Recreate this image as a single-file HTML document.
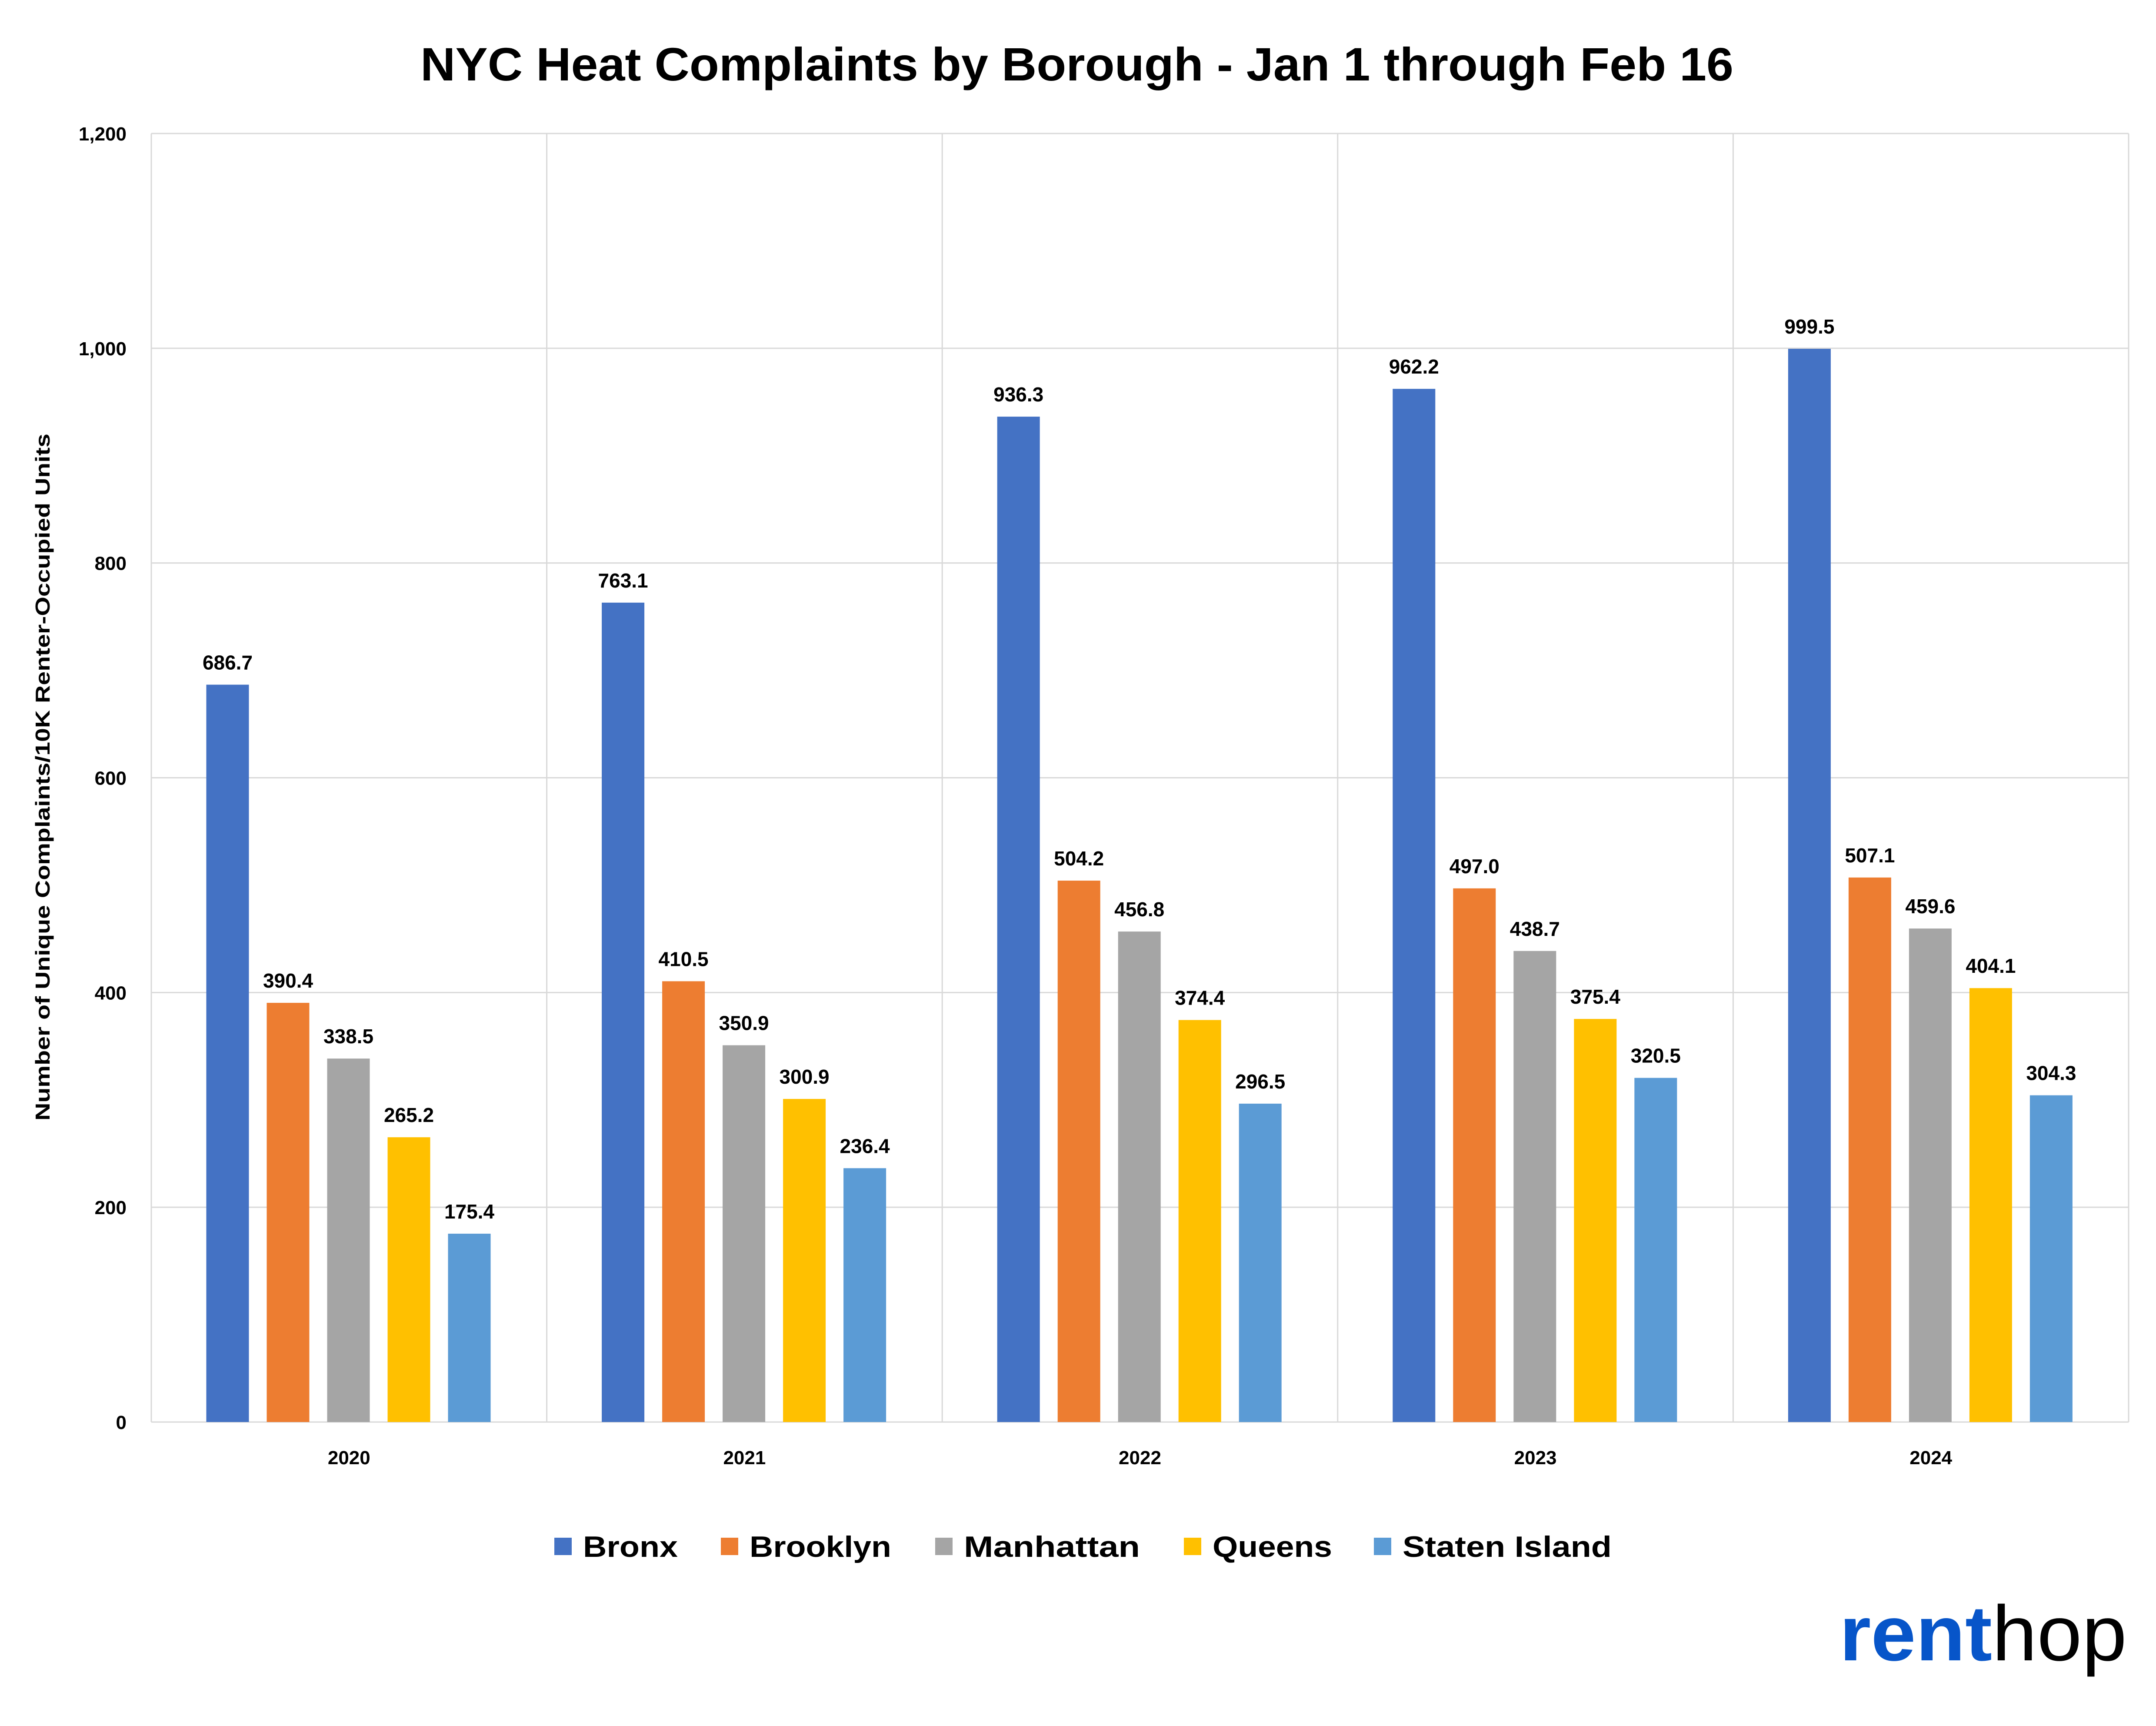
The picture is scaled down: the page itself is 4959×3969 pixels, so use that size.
<!DOCTYPE html>
<html><head><meta charset="utf-8"><style>
html,body{margin:0;padding:0;background:#fff;}
svg{display:block;font-family:"Liberation Sans",sans-serif;}
</style></head><body>
<svg id="chart" width="4959" height="3969" viewBox="0 0 4959 3969" xmlns="http://www.w3.org/2000/svg">
<rect width="4959" height="3969" fill="#fff"/>
<text x="2477" y="185" text-anchor="middle" font-size="108" font-weight="bold" textLength="3020" lengthAdjust="spacingAndGlyphs">NYC Heat Complaints by Borough - Jan 1 through Feb 16</text>
<g id="grid"></g><g id="bars"></g><g id="labels"></g>
<text transform="translate(114,1787) rotate(-90)" text-anchor="middle" font-size="46" font-weight="bold" textLength="1580" lengthAdjust="spacingAndGlyphs">Number of Unique Complaints/10K Renter-Occupied Units</text>
<g id="legend"></g>
<g>
<text x="4231" y="3818" font-size="180" textLength="661" lengthAdjust="spacingAndGlyphs"><tspan fill="#0755C9" font-weight="bold">rent</tspan><tspan fill="#000">hop</tspan></text>
</g>
</svg>
<script>
const categories = ["2020","2021","2022","2023","2024"];
const seriesNames = ["Bronx","Brooklyn","Manhattan","Queens","Staten Island"];
const bronx = [686.7,763.1,936.3,962.2,999.5];
const brooklyn = [390.4,410.5,504.2,497.0,507.1];
const manhattan = [338.5,350.9,456.8,438.7,459.6];
const queens = [265.2,300.9,374.4,375.4,404.1];
const statenIsland = [175.4,236.4,296.5,320.5,304.3];
const yTicks = [0,200,400,600,800,1000,1200];
const yTickLabels = ["0","200","400","600","800","1,000","1,200"];

const colors = ["#4472C4","#ED7D31","#A5A5A5","#FFC000","#5B9BD5"];
const allSeries = [bronx,brooklyn,manhattan,queens,statenIsland];
const NS = "http://www.w3.org/2000/svg";
const L=348, R=4896, T=307, B=3270, YMAX=1200;
const catW=(R-L)/categories.length;
const y = v => B - (v/YMAX)*(B-T);
const xBar = (ci,si) => L + ci*catW + 126.5 + si*139;
const BW=98;
function mk(tag, attrs, parent){const e=document.createElementNS(NS,tag);for(const k in attrs)e.setAttribute(k,attrs[k]);parent.appendChild(e);return e;}
const grid=document.getElementById('grid'), bars=document.getElementById('bars'), labels=document.getElementById('labels'), legend=document.getElementById('legend');
yTicks.forEach((t,i)=>{
  const ln=mk('line',{x1:L,x2:R,y1:y(t),y2:y(t),stroke:'#d9d9d9','stroke-width':3},grid);
  
  
  const tx=mk('text',{x:291,y:y(t)+16,'text-anchor':'end','font-size':44,'font-weight':'bold'},grid);
  tx.textContent=yTickLabels[i];
  
  
});
for(let i=0;i<=categories.length;i++){
  const ln=mk('line',{x1:L+i*catW,x2:L+i*catW,y1:T,y2:B,stroke:'#d9d9d9','stroke-width':3},grid);
  
  
}
categories.forEach((c,ci)=>{
  const tx=mk('text',{x:L+ci*catW+catW/2,y:3367,'text-anchor':'middle','font-size':44,'font-weight':'bold'},labels);
  tx.textContent=c;
  
  
  allSeries.forEach((s,si)=>{
    const v=s[ci];
    const r=mk('rect',{x:xBar(ci,si),y:y(v),width:BW,height:B-y(v),fill:colors[si]},bars);
    
    
    const t=mk('text',{x:xBar(ci,si)+BW/2,y:y(v)-35,'text-anchor':'middle','font-size':46,'font-weight':'bold'},labels);
    t.textContent=v.toFixed(1);
    
    
  });
});
const legX=[1275,1658,2151,2723,3160];
const legW=[218,326,405,275,481];
seriesNames.forEach((n,i)=>{
  const g=mk('g',{},legend);
  
  
  mk('rect',{x:legX[i],y:3536,width:40,height:40,fill:colors[i]},g);
  const t=mk('text',{x:legX[i]+66,y:3580,'font-size':68,'font-weight':'bold',textLength:legW[i],lengthAdjust:'spacingAndGlyphs'},g);
  t.textContent=n;
});
</script>
</body></html>
